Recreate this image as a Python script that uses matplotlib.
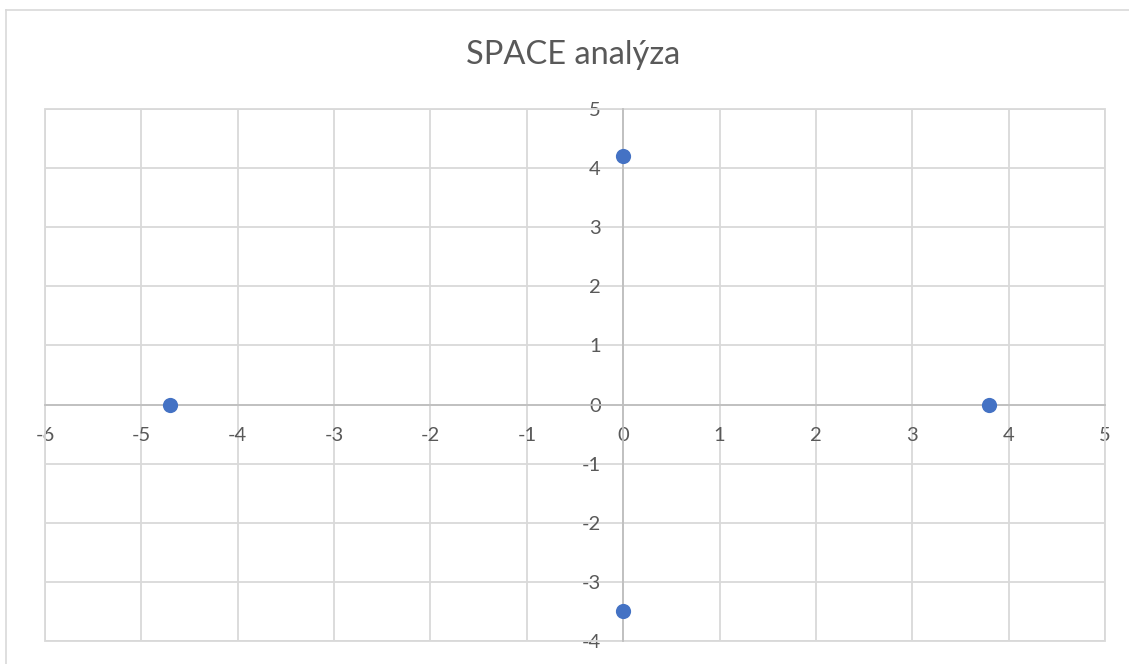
import matplotlib.pyplot as plt
from matplotlib.patches import Rectangle
from matplotlib.lines import Line2D

# SPACE analysis points
x_vals = [-4.7, 0.0, 3.8, 0.0]
y_vals = [0.0, 4.2, 0.0, -3.5]
x_ticks = list(range(-6, 6))
y_ticks = list(range(-4, 6))
title = 'SPACE analýza'

plt.rcParams['font.family'] = ['Lato', 'DejaVu Sans']

fig = plt.figure(figsize=(11.29, 6.64), dpi=100)
W, H = 1129, 664
ax = fig.add_axes([45 / W, 1 - 641 / H, (1105 - 45) / W, (641 - 109) / H])

# chart border (Excel-style frame)
fig.add_artist(Line2D([6 / W, 6 / W], [0, 1 - 10 / H], color='#d9d9d9', lw=1.2))
fig.add_artist(Line2D([6 / W, 1], [1 - 10 / H, 1 - 10 / H], color='#d9d9d9', lw=1.2))

ax.scatter(x_vals, y_vals, s=120, color='#4472C4', zorder=5, clip_on=False, linewidths=0)

ax.set_xlim(-6, 5)
ax.set_ylim(-4, 5)
ax.set_xticks(x_ticks)
ax.set_yticks(y_ticks)
ax.set_xticklabels([str(v) for v in x_ticks])
ax.set_yticklabels([str(v) for v in y_ticks])

ax.grid(True, color='#d9d9d9', lw=1.3, zorder=0)
ax.set_axisbelow(True)
ax.add_patch(Rectangle((0, 0), 1, 1, transform=ax.transAxes, fill=False,
                       edgecolor='#d9d9d9', lw=1.3, clip_on=False, zorder=1))

for s in ['top', 'right']:
    ax.spines[s].set_visible(False)
ax.spines['left'].set_position(('data', 0))
ax.spines['bottom'].set_position(('data', 0))
for s in ['left', 'bottom']:
    ax.spines[s].set_color('#bfbfbf')
    ax.spines[s].set_linewidth(1.3)
    ax.spines[s].set_zorder(2)

ax.tick_params(axis='both', length=0, labelsize=14.5, labelcolor='#595959')
ax.tick_params(axis='x', pad=16)
ax.tick_params(axis='y', pad=16)

fig.text(573 / W, 1 - 55 / H, title, ha='center', va='center', fontsize=23.5, color='#595959')

fig.savefig('out.png', dpi=100, facecolor='white')
